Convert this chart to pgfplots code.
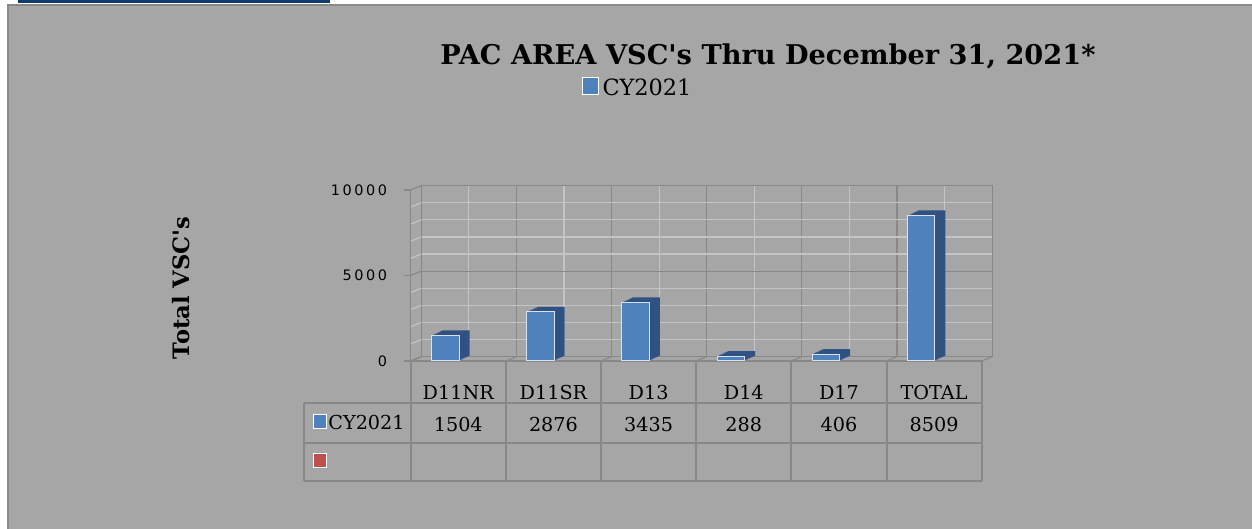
\documentclass[border=0pt]{standalone}
\usepackage{pgfplots}
\usepackage{pgfplotstable}
\pgfplotsset{compat=1.18}
\usepackage{fontspec}
\setmainfont{DejaVu Serif}
\newfontfamily\tickfont[LetterSpace=18]{DejaVu Sans}
\definecolor{bggray}{HTML}{A6A6A6}
\definecolor{bordergray}{HTML}{8A8A8A}
\definecolor{navy}{HTML}{0F3B6E}
\definecolor{griddark}{HTML}{888888}
\definecolor{gridlight}{HTML}{C4C4C4}
\definecolor{barblue}{HTML}{4F81BD}
\definecolor{barside}{HTML}{2F5282}
\definecolor{baredge}{HTML}{D6E2F0}
\definecolor{legred}{HTML}{C0504D}
\pgfplotstableread{
x y
0 1504
1 2876
2 3435
3 288
4 406
5 8509
}\datatable
\begin{document}
\begin{tikzpicture}[x=0.5pt,y=0.5pt]
\useasboundingbox (0,0) rectangle (1252,529);
\fill[white] (0,0) rectangle (1252,529);
\filldraw[fill=bggray, draw=bordergray, line width=1pt] (8,-4) rectangle (1258,524);
\fill[navy] (18,525.5) rectangle (330,529);
% back wall
\begin{axis}[at={(210.6pt,86.15pt)}, anchor=south west, scale only axis,
  width=285.5pt, height=85.5pt,
  xmin=-0.5, xmax=5.5, ymin=0, ymax=10000,
  scaled x ticks=false, scaled y ticks=false,
  xtick={-0.5,0.5,1.5,2.5,3.5,4.5,5.5}, minor xtick={0,1,2,3,4,5},
  ytick={0,5000,10000}, minor ytick={1000,2000,3000,4000,6000,7000,8000,9000},
  grid=both,
  major grid style={draw=griddark, line width=0.6pt},
  minor grid style={draw=gridlight, line width=0.6pt},
  xticklabels={}, yticklabels={}, tick style={draw=none},
  axis line style={draw=griddark, line width=0.6pt}]
\addplot[draw=none, forget plot] coordinates {(0,0)};
\end{axis}
% side wall and floor
\foreach \v in {1000,2000,3000,4000,6000,7000,8000,9000}
  \draw[gridlight, line width=0.6pt] (410.7,{168+\v*0.0171}) -- (421.2,{172.3+\v*0.0171});
\foreach \v in {0,5000,10000}
  \draw[griddark, line width=0.6pt] (410.7,{168+\v*0.0171}) -- (421.2,{172.3+\v*0.0171});
\foreach \k in {0,...,6}
  \draw[griddark, line width=0.6pt] ({410.7+\k*95.1667},168) -- ({421.2+\k*95.1667},172.3);
% front axis with bars
\begin{axis}[at={(205.35pt,84pt)}, anchor=south west, scale only axis,
  width=285.5pt, height=85.5pt,
  xmin=-0.5, xmax=5.5, ymin=0, ymax=10000, clip=false,
  scaled x ticks=false, scaled y ticks=false,
  axis x line*=bottom, axis y line*=left,
  x axis line style={draw=griddark, line width=0.6pt},
  y axis line style={draw=griddark, line width=0.6pt},
  tick align=outside, major tick length=3.35pt,
  ytick={0,5000,10000}, yticklabels={0,5000,10000},
  ytick style={draw=griddark, line width=0.6pt},
  yticklabel style={font=\tickfont\fontsize{7.2}{8}\selectfont, anchor=east, xshift=-5pt},
  xtick={0,1,2,3,4,5}, xtick style={draw=none},
  xticklabels={{D11NR\\1504},{D11SR\\2876},{D13\\3435},{D14\\288},{D17\\406},{TOTAL\\8509}},
  xticklabel style={font=\fontsize{9.6}{16.2}\selectfont, align=center, anchor=base, yshift=-32pt},
  title={PAC AREA VSC\textquotesingle s Thru December 31, 2021*},
  title style={at={(axis description cs:0.6256,1.661)}, anchor=base, yshift=0pt, font=\bfseries\fontsize{13.6}{15}\selectfont},
  ylabel={Total VSC\textquotesingle s},
  ylabel style={at={(axis description cs:-0.4023,0.427)}, anchor=center, font=\bfseries\fontsize{11.3}{13}\selectfont},
  legend style={at={(axis description cs:0.399,1.591)}, anchor=center, draw=none, fill=none,
    font=\fontsize{11.2}{12}\selectfont, inner sep=0pt},
  legend image code/.code={\draw[fill=barblue, draw=white, line width=0.5pt] (0pt,-2.8pt) rectangle (8pt,5.7pt);}
]
\addplot[ybar, bar width=13.75pt, bar shift=-1.25pt, yshift=2.5pt, fill=barside, draw=none, forget plot] table[x=x,y=y]{\datatable};
\addplot[ybar, bar width=13.75pt, bar shift=-2.125pt, yshift=2.083pt, fill=barside, draw=none, forget plot] table[x=x,y=y]{\datatable};
\addplot[ybar, bar width=13.75pt, bar shift=-3pt, yshift=1.667pt, fill=barside, draw=none, forget plot] table[x=x,y=y]{\datatable};
\addplot[ybar, bar width=13.75pt, bar shift=-3.875pt, yshift=1.25pt, fill=barside, draw=none, forget plot] table[x=x,y=y]{\datatable};
\addplot[ybar, bar width=13.75pt, bar shift=-4.75pt, yshift=0.833pt, fill=barside, draw=none, forget plot] table[x=x,y=y]{\datatable};
\addplot[ybar, bar width=13.75pt, bar shift=-5.625pt, yshift=0.417pt, fill=barside, draw=none, forget plot] table[x=x,y=y]{\datatable};
\addplot[ybar, bar width=13.75pt, bar shift=-6.5pt, fill=barblue, draw=baredge, line width=0.5pt] table[x=x,y=y]{\datatable};
\addlegendentry{CY2021}
\end{axis}
% data table grid
\begin{scope}[draw=griddark, line width=1pt]
\foreach \k in {0,...,6}
  \draw ({410.7+\k*95.1667},168) -- ({410.7+\k*95.1667},48.3);
\draw (304.3,125.7) -- (981.7,125.7);
\draw (304.3,86.3) -- (981.7,86.3);
\draw (304.3,48.3) -- (981.7,48.3);
\draw (304.3,125.7) -- (304.3,48.3);
\end{scope}
\filldraw[fill=barblue, draw=white, line width=0.5pt] (313,100) rectangle (326,114);
\filldraw[fill=legred, draw=white, line width=0.5pt] (313,61.7) rectangle (326,75);
\node[anchor=base west, inner sep=0pt, font=\fontsize{9.6}{11}\selectfont] at (328,99.7) {CY2021};
\end{tikzpicture}
\end{document}
